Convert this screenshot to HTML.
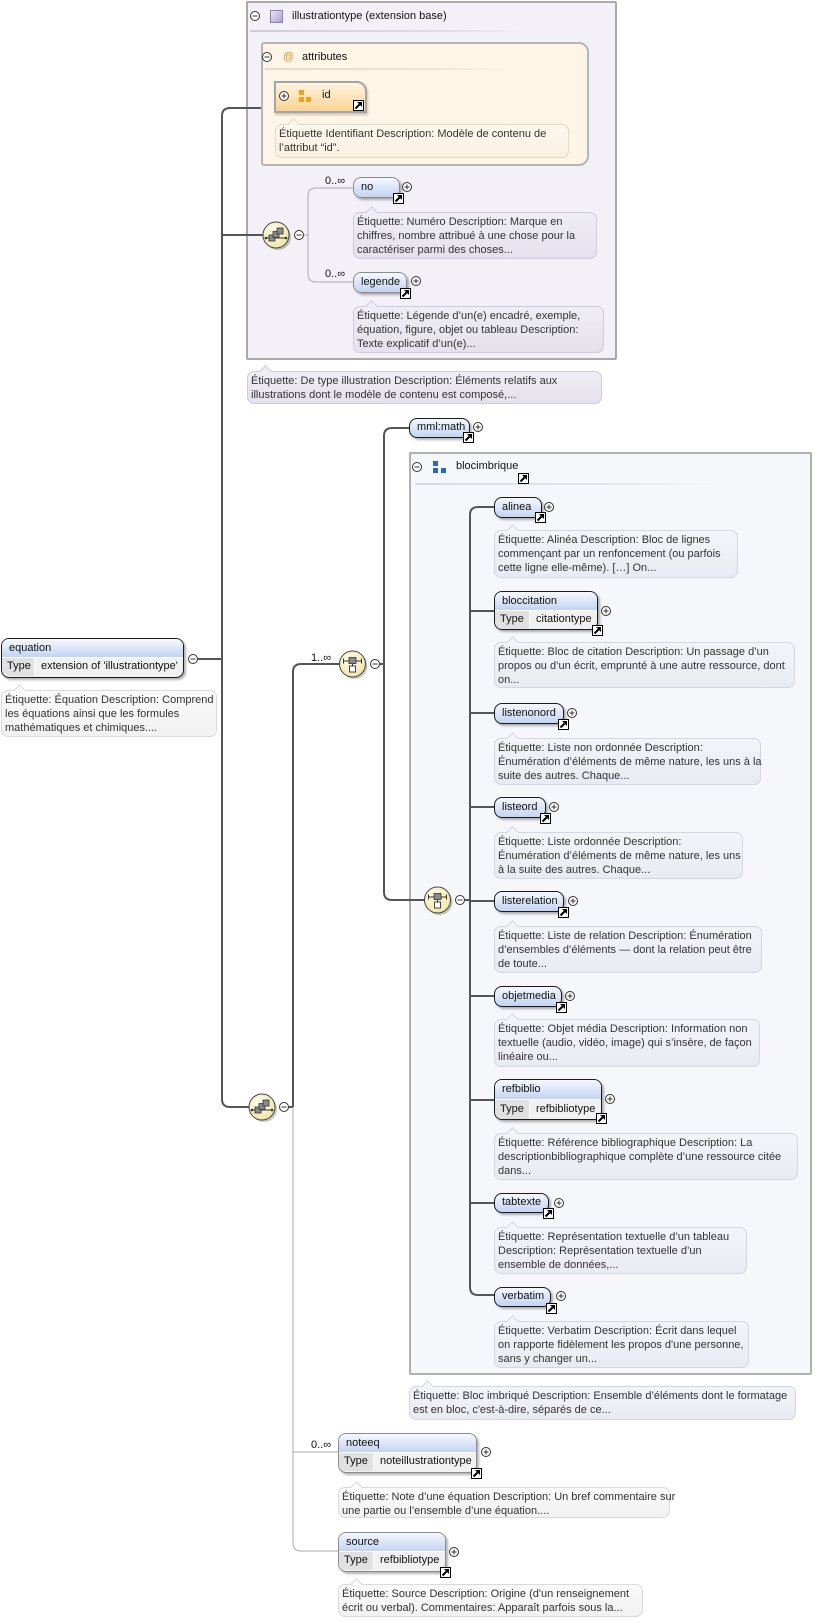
<!DOCTYPE html>
<html><head><meta charset="utf-8"><style>
*{box-sizing:border-box}
body{margin:0;width:831px;height:1622px;background:#fff;position:relative;overflow:hidden;font-family:"Liberation Sans",Arial,sans-serif;font-size:11px;color:#111}
.a{position:absolute;white-space:nowrap}
.lab{position:absolute;white-space:nowrap;line-height:14px}
.ct{position:absolute;border:2px solid #ababab}
.d{position:absolute;border:1px solid var(--b);border-radius:7px;background:linear-gradient(var(--c),var(--c2));color:#333;line-height:14px;padding:2px 0 0 3px;white-space:nowrap}
.d::before{content:"";position:absolute;left:13px;top:-5px;width:8px;height:8px;background:var(--c);border-left:1px solid var(--b);border-top:1px solid var(--b);transform:rotate(45deg)}
.lv{--c:#efedf5;--c2:#e4e1ec;--b:#cfcbda}
.cr{--c:#fdf8ee;--c2:#f9f0df;--b:#e2d8c6}
.bl{--c:#f2f4f8;--c2:#e8ebf1;--b:#d3d7df}
.wh{--c:#fafafa;--c2:#f1f1f1;--b:#dadada}
.el{position:absolute;border:1.5px solid #1a1a1a;border-radius:8px;background:linear-gradient(#f6f8fe,#c2d4f2);box-shadow:2px 2px 2px rgba(0,0,0,.3);line-height:18px;padding-left:7px;white-space:nowrap;overflow:hidden}
.op{border-color:#8c8c8c}
.ty{padding:0;background:#f1f1f1}
.ty .h{height:19px;line-height:18px;padding-left:7px;background:linear-gradient(#f6f8fe,#c2d4f2);border-bottom:1px solid #fff}
.ty .r{display:flex;height:18px;line-height:17px}
.ty .k{width:35px;background:#e1e1e1;border-right:1px solid #fff;padding-left:5px}
.ty .v{padding-left:6px}
.sep{position:absolute;height:2px}
</style></head><body>

<!-- containers -->
<div class="ct" style="left:246px;top:1px;width:371px;height:359px;background:#f3f1f7;border-color:#a9a9a9;border-radius:2px"></div>
<div class="sep" style="left:250px;top:30px;width:278px;background:linear-gradient(90deg,#cfcdd6,#dedce6 70%,rgba(230,228,236,0))"></div>
<div class="lab" style="left:292px;top:9px">illustrationtype (extension base)</div>

<div class="ct" style="left:261px;top:42px;width:328px;height:124px;background:#fdf5e6;border-color:#b5b5b5;border-radius:3px 10px 10px 3px"></div>
<div class="sep" style="left:265px;top:68px;width:246px;background:linear-gradient(90deg,#e2dccf,#ece5d6 70%,rgba(240,232,218,0))"></div>
<div class="lab" style="left:283px;top:50px;color:#e39a2a">@</div>
<div class="lab" style="left:302px;top:50px">attributes</div>

<div class="a" style="left:274px;top:81px;width:93px;height:32px;border:2px solid #a5a5a5;border-radius:0 10px 0 0;background:linear-gradient(#fff4e2,#fbd390);box-shadow:1px 2px 2px rgba(0,0,0,.2)"></div>
<div class="lab" style="left:322px;top:88px">id</div>

<div class="ct" style="left:409px;top:452px;width:403px;height:923px;background:#f6f7fb;border-color:#b0b0b0;border-radius:2px"></div>
<div class="sep" style="left:415px;top:483px;width:302px;background:linear-gradient(90deg,#d8dbe3,#e6e8ee 70%,rgba(240,241,246,0))"></div>
<div class="lab" style="left:456px;top:459px">blocimbrique</div>

<!-- descriptions -->
<div class="d cr" style="left:275px;top:124px;width:294px;height:34px">Étiquette Identifiant Description: Modèle de contenu de<br>l’attribut “id”.</div>
<div class="d lv" style="left:353px;top:212px;width:244px;height:47px">Étiquette: Numéro Description: Marque en<br>chiffres, nombre attribué à une chose pour la<br>caractériser parmi des choses...</div>
<div class="d lv" style="left:353px;top:306px;width:251px;height:47px">Étiquette: Légende d’un(e) encadré, exemple,<br>équation, figure, objet ou tableau Description:<br>Texte explicatif d’un(e)...</div>
<div class="d lv" style="left:247px;top:371px;width:355px;height:33px">Étiquette: De type illustration Description: Éléments relatifs aux<br>illustrations dont le modèle de contenu est composé,...</div>
<div class="d wh" style="left:1px;top:690px;width:216px;height:47px">Étiquette: Équation Description: Comprend<br>les équations ainsi que les formules<br>mathématiques et chimiques....</div>
<div class="d bl" style="left:494px;top:530px;width:244px;height:48px">Étiquette: Alinéa Description: Bloc de lignes<br>commençant par un renfoncement (ou parfois<br>cette ligne elle-même). […] On...</div>
<div class="d bl" style="left:494px;top:642px;width:301px;height:46px">Étiquette: Bloc de citation Description: Un passage d’un<br>propos ou d’un écrit, emprunté à une autre ressource, dont<br>on...</div>
<div class="d bl" style="left:494px;top:738px;width:267px;height:47px">Étiquette: Liste non ordonnée Description:<br>Énumération d’éléments de même nature, les uns à la<br>suite des autres. Chaque...</div>
<div class="d bl" style="left:494px;top:832px;width:249px;height:47px">Étiquette: Liste ordonnée Description:<br>Énumération d’éléments de même nature, les uns<br>à la suite des autres. Chaque...</div>
<div class="d bl" style="left:494px;top:926px;width:268px;height:47px">Étiquette: Liste de relation Description: Énumération<br>d’ensembles d’éléments — dont la relation peut être<br>de toute...</div>
<div class="d bl" style="left:494px;top:1019px;width:266px;height:48px">Étiquette: Objet média Description: Information non<br>textuelle (audio, vidéo, image) qui s’insère, de façon<br>linéaire ou...</div>
<div class="d bl" style="left:494px;top:1133px;width:304px;height:47px">Étiquette: Référence bibliographique Description: La<br>descriptionbibliographique complète d’une ressource citée<br>dans...</div>
<div class="d bl" style="left:494px;top:1227px;width:253px;height:47px">Étiquette: Représentation textuelle d’un tableau<br>Description: Représentation textuelle d’un<br>ensemble de données,...</div>
<div class="d bl" style="left:494px;top:1321px;width:255px;height:47px">Étiquette: Verbatim Description: Écrit dans lequel<br>on rapporte fidèlement les propos d'une personne,<br>sans y changer un...</div>
<div class="d bl" style="left:409px;top:1386px;width:387px;height:34px">Étiquette: Bloc imbriqué Description: Ensemble d’éléments dont le formatage<br>est en bloc, c'est-à-dire, séparés de ce...</div>
<div class="d wh" style="left:338px;top:1487px;width:332px;height:31px">Étiquette: Note d’une équation Description: Un bref commentaire sur<br>une partie ou l’ensemble d’une équation....</div>
<div class="d wh" style="left:338px;top:1584px;width:305px;height:33px">Étiquette: Source Description: Origine (d'un renseignement<br>écrit ou verbal). Commentaires: Apparaît parfois sous la...</div>

<!-- connectors -->
<svg class="a" style="left:0;top:0" width="831" height="1622" viewBox="0 0 831 1622">
<g fill="none" stroke="#555" stroke-width="2">
<path d="M261,108 H230 Q222,108 222,116 V1099 Q222,1107 230,1107 H249"/>
<path d="M198,659 H222"/>
<path d="M222,235 H263"/>
<path d="M289,1107 H293 M293,1107 V672 Q293,664 301,664 H340"/>
<path d="M380,664 H384 M409,428 H392 Q384,428 384,436 V892 Q384,900 392,900 H425"/>
<path d="M465,900 H470 M494,507 H478 Q470,507 470,515 V1287 Q470,1295 478,1295 H494"/>
<path d="M470,611 H494 M470,713 H494 M470,807 H494 M470,901 H494 M470,996 H494 M470,1100 H494 M470,1203 H494"/>
</g>
<g fill="none" stroke="#aaa" stroke-width="1">
<path d="M304,235 H308 M353,188 H316 Q308,188 308,196 V274 Q308,282 316,282 H353"/>
<path d="M293,1107 V1543 Q293,1551 301,1551 H338 M293,1452 H338"/>
</g>
</svg>

<!-- elements -->
<div class="el op" style="left:353px;top:177px;width:47px;height:21px">no</div>
<div class="el op" style="left:353px;top:272px;width:54px;height:21px">legende</div>

<div class="el ty" style="left:1px;top:638px;width:183px;height:40px"><div class="h">equation</div><div class="r"><div class="k" style="width:33px">Type</div><div class="v">extension of 'illustrationtype'</div></div></div>

<div class="el" style="left:409px;top:418px;width:61px;height:20px;line-height:17px">mml:math</div>
<div class="el" style="left:494px;top:497px;width:48px;height:21px">alinea</div>
<div class="el ty" style="left:494px;top:591px;width:104px;height:39px"><div class="h">bloccitation</div><div class="r"><div class="k">Type</div><div class="v">citationtype</div></div></div>
<div class="el" style="left:494px;top:703px;width:70px;height:21px">listenonord</div>
<div class="el" style="left:494px;top:797px;width:52px;height:21px">listeord</div>
<div class="el" style="left:494px;top:891px;width:70px;height:21px">listerelation</div>
<div class="el" style="left:494px;top:986px;width:68px;height:21px">objetmedia</div>
<div class="el ty" style="left:494px;top:1079px;width:108px;height:41px"><div class="h" style="height:20px;line-height:19px">refbiblio</div><div class="r" style="height:19px;line-height:18px"><div class="k">Type</div><div class="v">refbibliotype</div></div></div>
<div class="el" style="left:494px;top:1193px;width:55px;height:20px;line-height:17px">tabtexte</div>
<div class="el" style="left:494px;top:1287px;width:57px;height:20px;line-height:17px">verbatim</div>

<div class="el ty op" style="left:338px;top:1433px;width:139px;height:40px"><div class="h">noteeq</div><div class="r"><div class="k">Type</div><div class="v">noteillustrationtype</div></div></div>
<div class="el ty op" style="left:338px;top:1532px;width:108px;height:40px"><div class="h">source</div><div class="r"><div class="k">Type</div><div class="v">refbibliotype</div></div></div>

<!-- cardinality labels -->
<div class="lab" style="left:325px;top:174px">0..∞</div>
<div class="lab" style="left:325px;top:267px">0..∞</div>
<div class="lab" style="left:311px;top:651px">1..∞</div>
<div class="lab" style="left:311px;top:1438px">0..∞</div>

<!-- icons -->
<svg class="a" style="left:0;top:0" width="831" height="1622" viewBox="0 0 831 1622">
<defs>
<radialGradient id="yg" cx="40%" cy="35%" r="70%"><stop offset="0" stop-color="#fffef0"/><stop offset="1" stop-color="#efe5a0"/></radialGradient>
<linearGradient id="lvg" x1="0" y1="0" x2="1" y2="1"><stop offset="0" stop-color="#eeeaf8"/><stop offset="1" stop-color="#a99cd0"/></linearGradient>
<g id="pl"><circle r="4.5" fill="#fff" stroke="#333"/><path d="M-2.5,0H2.5M0,-2.5V2.5" stroke="#333"/></g>
<g id="mi"><circle r="4.5" fill="#fff" stroke="#333"/><path d="M-2.5,0H2.5" stroke="#333"/></g>
<g id="ar"><rect x=".5" y=".5" width="10" height="10" fill="#fff" stroke="#000"/><path d="M2.5,8.5 L6.5,4.5" stroke="#000" stroke-width="2"/><path d="M4,2 H9 V7 Z" fill="#000"/></g>
<g id="cb"><circle cx="2" cy="2" r="13" fill="rgba(0,0,0,.22)"/><circle r="13" fill="url(#yg)" stroke="#444"/></g>
<g id="seq"><use href="#cb"/><path d="M-10,3 H10" stroke="#333"/><circle cx="-10" cy="3" r="1.3" fill="#333"/><circle cx="10" cy="3" r="1.3" fill="#333"/>
<rect x="-7" y="0" width="6" height="6" fill="#8a8a8a" stroke="#333" stroke-width=".8"/>
<rect x="-3" y="-3.5" width="6" height="6" fill="#8a8a8a" stroke="#333" stroke-width=".8"/>
<rect x="1" y="-7" width="6" height="6" fill="#8a8a8a" stroke="#333" stroke-width=".8"/></g>
<g id="cho"><use href="#cb"/><path d="M-9,-3 H9 M-9,-5.5 V-0.5 M9,-5.5 V-0.5 M0,0 V2" stroke="#333"/>
<rect x="-3.5" y="-6.5" width="7" height="6" fill="#8a8a8a" stroke="#333" stroke-width=".8"/>
<rect x="-3" y="2" width="6" height="6" fill="#fff" stroke="#333" stroke-width=".9"/></g>
</defs>
<!-- header icons -->
<rect x="270.5" y="10.5" width="12" height="12" fill="url(#lvg)" stroke="#8a80b0"/>
<g fill="#f0a224"><rect x="299" y="90" width="5" height="5"/><rect x="299" y="97" width="5" height="5"/><rect x="306" y="97" width="5" height="5"/></g>
<g fill="#2f65b5"><rect x="433" y="461" width="5" height="5"/><rect x="433" y="468" width="5" height="5"/><rect x="441" y="468" width="5" height="5"/></g>
<!-- compositors -->
<use href="#seq" x="276" y="235"/>
<use href="#seq" x="262" y="1107"/>
<use href="#cho" x="352.5" y="664"/>
<use href="#cho" x="437.5" y="900"/>
<!-- minus -->
<use href="#mi" x="255" y="16"/>
<use href="#mi" x="267" y="57"/>
<use href="#mi" x="417" y="467"/>
<use href="#mi" x="193" y="659"/>
<use href="#mi" x="299" y="235"/>
<use href="#mi" x="375" y="664"/>
<use href="#mi" x="460" y="900"/>
<use href="#mi" x="284" y="1107"/>
<!-- plus -->
<use href="#pl" x="284" y="96"/>
<use href="#pl" x="407" y="187"/>
<use href="#pl" x="416" y="281"/>
<use href="#pl" x="478" y="427"/>
<use href="#pl" x="549" y="507"/>
<use href="#pl" x="606" y="611"/>
<use href="#pl" x="572" y="713"/>
<use href="#pl" x="554" y="807"/>
<use href="#pl" x="573" y="901"/>
<use href="#pl" x="570" y="996"/>
<use href="#pl" x="610" y="1099"/>
<use href="#pl" x="559" y="1203"/>
<use href="#pl" x="561" y="1296"/>
<use href="#pl" x="486" y="1452"/>
<use href="#pl" x="454" y="1552"/>
<!-- link arrows -->
<use href="#ar" x="353" y="100"/>
<use href="#ar" x="393" y="193"/>
<use href="#ar" x="400" y="288"/>
<use href="#ar" x="463" y="432"/>
<use href="#ar" x="518" y="473"/>
<use href="#ar" x="535" y="512"/>
<use href="#ar" x="592" y="625"/>
<use href="#ar" x="558" y="719"/>
<use href="#ar" x="540" y="813"/>
<use href="#ar" x="558" y="907"/>
<use href="#ar" x="556" y="1002"/>
<use href="#ar" x="596" y="1113"/>
<use href="#ar" x="543" y="1208"/>
<use href="#ar" x="546" y="1303"/>
<use href="#ar" x="471" y="1468"/>
<use href="#ar" x="440" y="1567"/>
</svg>
</body></html>
